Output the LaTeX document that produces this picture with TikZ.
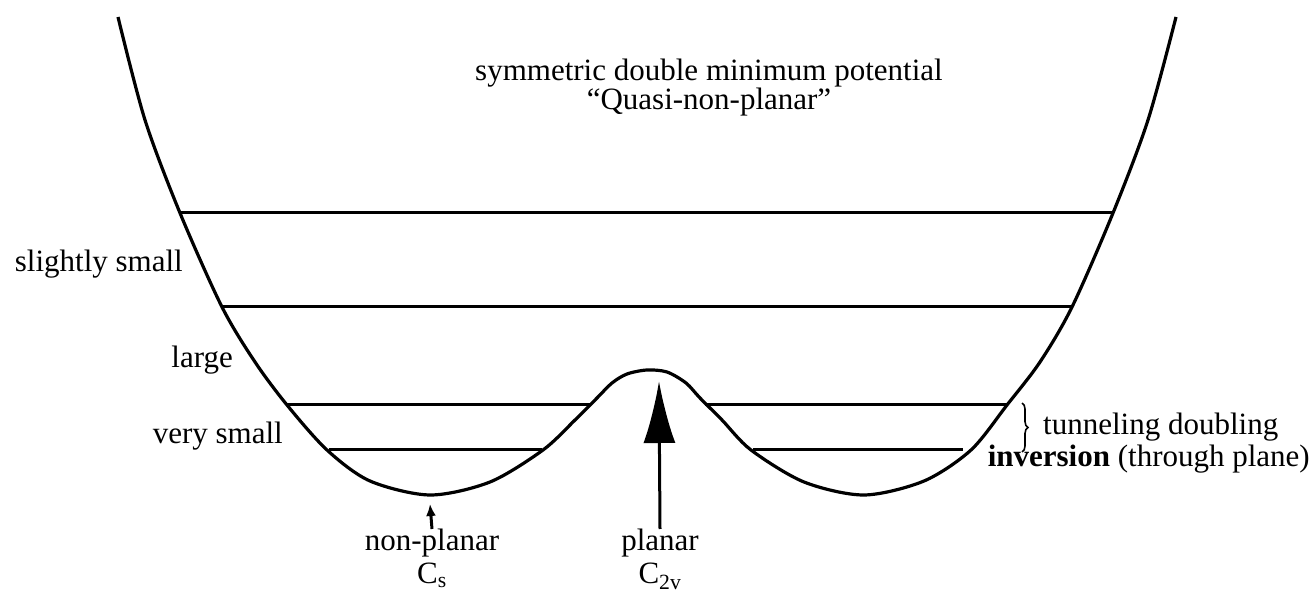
\documentclass[tikz,border=0pt]{standalone}
\usepackage{fontspec}
\setmainfont{Liberation Serif}
\usetikzlibrary{arrows.meta,positioning,decorations.pathreplacing}

\begin{document}
\begin{tikzpicture}[x=1pt, y=-1pt,
    lbl/.style={inner sep=0pt, font=\fontsize{31}{33}\selectfont},
    geom/.style={lbl, align=center, anchor=north, font=\fontsize{31}{33}\selectfont},
    lvl/.style={line width=3pt},
    pot/.style={line width=3.2pt, line join=round},
    >=Latex,
]
    \useasboundingbox (0,0) rectangle (1315,593);

    % Potential curve
    \draw[pot] plot[smooth, tension=0.5] coordinates {
        (118,17) (145,120) (180,213) (222,307) (255,362) (287,405)
        (327,450) (370,481) (430,495) (490,482) (543,450) (575,420)
        (597,398) (612,383) (627,374) (647,370) (667,372) (686,383)
        (700,398) (722,420) (751,450) (804,482) (864,495) (924,481)
        (971,450) (1007,405) (1040,362) (1072,307) (1113,213)
        (1148,120) (1176,17)};

    % Energy levels
    \draw[lvl] (180,213) -- (1113,213);
    \draw[lvl] (222,307) -- (1072,307);
    \draw[lvl] (287,405) -- (590,405);
    \draw[lvl] (705,405) -- (1008,405);
    \draw[lvl] (329,450) -- (542,450);
    \draw[lvl] (753,450) -- (963,450);

    % Title
    \node[lbl, align=center, font=\fontsize{31}{29}\selectfont] (title) at (709,88)
          {symmetric double minimum potential\\``Quasi-non-planar''};

    % Left labels
    \node[lbl, anchor=base east] (slight) at (183,272) {slightly small};
    \node[lbl, anchor=base east] (large) at (233,368) {large};
    \node[lbl, anchor=base east] (vsmall) at (283,443) {very small};

    % Tunneling doubling
    \draw[decorate, decoration={brace, amplitude=6pt}, line width=1.6pt]
          (1022,403) -- (1022,452);
    \node[lbl, anchor=base west] (tunnel) at (1043,435) {tunneling doubling};
    \node[lbl, anchor=base east] (invers) at (1310,467)
          {\textbf{inversion} (through plane)};

    % Geometries
    \coordinate (minL) at (430,504);
    \coordinate (hump) at (659,381);
    \node[geom] (nonplanar) at (432,529) {non-planar\\C\textsubscript{s}};
    \node[geom] (planar) at (660,529) {planar\\C\textsubscript{2v}};

    % Arrows
    \draw[line width=3pt, -{Latex[length=12pt, width=10pt]}]
          (nonplanar.north) -- (minL);
    \draw[line width=3pt, -{Latex[length=62pt, width=32pt]}]
          (planar.north) -- (hump);
\end{tikzpicture}
\end{document}
